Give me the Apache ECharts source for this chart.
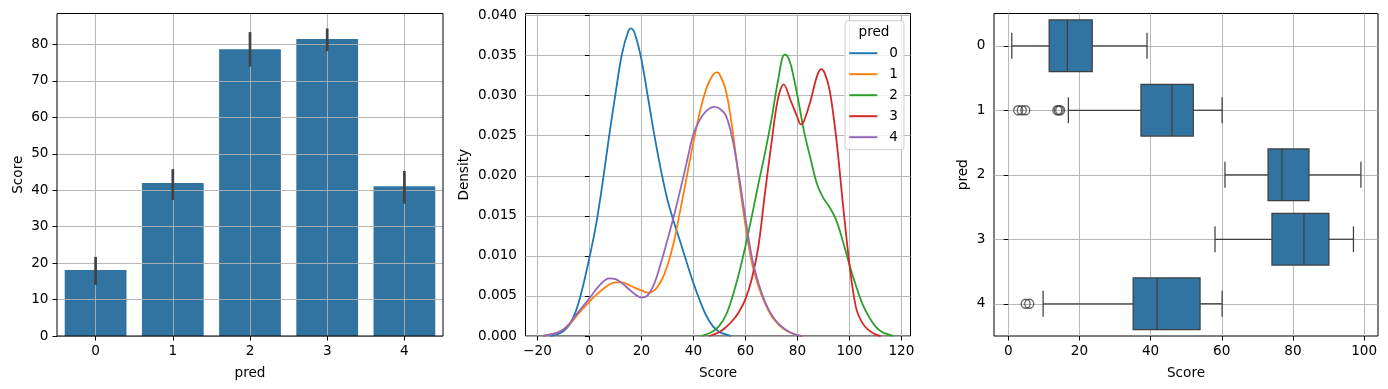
<!DOCTYPE html>
<html><head><meta charset="utf-8">
<script src="https://cdn.jsdelivr.net/npm/echarts@6/dist/echarts.min.js"></script>
<style>html,body{margin:0;padding:0;background:#fff}#c{width:1388px;height:389px}</style>
</head><body><div id="c"></div>
<script>
// ---------- data ----------
const categories = ['0', '1', '2', '3', '4'];
const barMeans  = [18.1, 42.0, 78.7, 81.5, 41.1];
const barCiLow  = [14.0, 37.3, 73.9, 78.2, 36.3];
const barCiHigh = [21.7, 45.8, 83.4, 84.4, 45.3];
const barYTicks = [0, 10, 20, 30, 40, 50, 60, 70, 80];

const kdeXTicks = [-20, 0, 20, 40, 60, 80, 100, 120];
const kdeYTicks = [0, 0.005, 0.010, 0.015, 0.020, 0.025, 0.030, 0.035, 0.040];
const kde0 = [[-15,0],[-12.5,0.0002],[-10,0.0006],[-7.5,0.0015],[-5,0.0033],[-2.5,0.0062],[0,0.0098],[2.5,0.0138],[5,0.0190],[7.5,0.0248],[10,0.0302],[12.5,0.0352],[15,0.0381],[16,0.0384],[17.5,0.0377],[20,0.0345],[22.5,0.0298],[25,0.0250],[27.5,0.0207],[30,0.0170],[32.5,0.0142],[35,0.0117],[37.5,0.0091],[40,0.0066],[42.5,0.0044],[45,0.0025],[47.5,0.0012],[50,0.0005],[52.5,0.0002],[54.5,0]];
const kde1 = [[-18,0],[-15,0.0002],[-12.5,0.0004],[-10,0.0008],[-7.5,0.0015],[-5,0.0025],[-2.5,0.0034],[0,0.0043],[2.5,0.0051],[5,0.0058],[7.5,0.0064],[10,0.0067],[12.5,0.0067],[15,0.0064],[17.5,0.0060],[20,0.0057],[22.5,0.0054],[25,0.0057],[27.5,0.0068],[30,0.0088],[32.5,0.0118],[35,0.0158],[37.5,0.0200],[40,0.0242],[42.5,0.0280],[45,0.0309],[47.5,0.0326],[49,0.0329],[50,0.0327],[52.5,0.0306],[55,0.0258],[57.5,0.0195],[60,0.0138],[62.5,0.0091],[65,0.0062],[67.5,0.0041],[70,0.0025],[72.5,0.0015],[75,0.0008],[77.5,0.0004],[80,0.0001],[82,0]];
const kde2 = [[43,0],[45,0.0002],[47.5,0.0006],[50,0.0013],[52.5,0.0026],[55,0.0049],[57.5,0.0078],[60,0.0112],[62.5,0.0150],[65,0.0190],[67.5,0.0228],[70,0.0270],[72.5,0.0318],[75,0.0351],[76,0.0350],[77.5,0.0338],[80,0.0300],[82.5,0.0256],[85,0.0222],[87.5,0.0190],[90,0.0172],[92.5,0.0160],[95,0.0144],[97.5,0.0118],[100,0.0089],[102.5,0.0063],[105,0.0040],[107.5,0.0024],[110,0.0012],[112.5,0.0005],[115,0.0002],[117,0]];
const kde3 = [[46,0],[50,0.0005],[52.5,0.0011],[55,0.0019],[57.5,0.0030],[60,0.0046],[62.5,0.0072],[65,0.0112],[67.5,0.0178],[70,0.0240],[72.5,0.0296],[74.7,0.0314],[77.5,0.0293],[80,0.0273],[81.3,0.0264],[82.5,0.0268],[85,0.0293],[87.5,0.0324],[89.1,0.0333],[90.5,0.0328],[92.5,0.0305],[95,0.0245],[97.5,0.0165],[100,0.0090],[102.5,0.0036],[105,0.0016],[107.5,0.0007],[110,0.0002],[112,0]];
const kde4 = [[-18,0],[-15,0.0002],[-12.5,0.0004],[-10,0.0008],[-7.5,0.0016],[-5,0.0027],[-2.5,0.0037],[0,0.0047],[2.5,0.0058],[5,0.0067],[7.5,0.0072],[10,0.0071],[12.5,0.0066],[15,0.0059],[17.5,0.0052],[20,0.0048],[22.5,0.0051],[25,0.0066],[27.5,0.0091],[30,0.0120],[32.5,0.0150],[35,0.0183],[37.5,0.0218],[40,0.0252],[42.5,0.0270],[45,0.0281],[48,0.0286],[50,0.0284],[52.5,0.0275],[55,0.0246],[57.5,0.0200],[60,0.0147],[62.5,0.0098],[65,0.0066],[67.5,0.0043],[70,0.0027],[72.5,0.0016],[75,0.0009],[77.5,0.0004],[80,0.0001],[82,0]];

const boxXTicks = [0, 20, 40, 60, 80, 100];
// [whiskerLow, Q1, median, Q3, whiskerHigh] per category
const boxStats = [
  [1.0, 11.5, 16.6, 23.6, 39.0],
  [16.9, 37.3, 46.0, 52.0, 60.1],
  [60.9, 73.0, 76.9, 84.5, 99.1],
  [58.1, 74.1, 83.1, 90.1, 97.0],
  [9.8, 35.1, 41.8, 53.9, 60.1]
];
const outlierValues = [2.8, 3.8, 4.8, 13.8, 14.2, 14.6, 4.9, 5.9];
const outlierCats   = [1, 1, 1, 1, 1, 1, 4, 4];

// ---------- styling helpers ----------
const FONT = 'DejaVu Sans';
const FS = 13.6;
const GRID_COLOR = '#b0b0b0';
const lineColors = ['#1f77b4', '#ff7f0e', '#2ca02c', '#d62728', '#9467bd'];
const BAR_COLOR = '#3274a1';
const EDGE = '#3f3f3f';

function tick() { return {show: true, length: 4.5, lineStyle: {color: '#000', width: 1}}; }
function label(extra) { return Object.assign({color: '#000', fontFamily: FONT, fontSize: FS, margin: 8.5}, extra || {}); }
function nameStyle() { return {color: '#000', fontFamily: FONT, fontSize: FS}; }
function split() { return {show: true, lineStyle: {color: GRID_COLOR, width: 0.9}}; }

function valueAxis(gridIndex, min, max, ticks, fmt, name, nameGap, isY, z) {
  return {
    type: 'value', gridIndex, min, max, z: z || 0,
    name, nameLocation: 'middle', nameGap, nameRotate: isY ? 90 : 0, nameTextStyle: nameStyle(),
    axisLine: {show: false},
    axisTick: Object.assign(tick(), {customValues: ticks}),
    axisLabel: label({customValues: ticks, formatter: fmt}),
    splitLine: Object.assign(split(), {customValues: ticks})
  };
}
function catAxis(gridIndex, name, nameGap, isY, inverse, z) {
  return {
    type: 'category', gridIndex, data: categories, inverse: !!inverse, z: z || 0,
    boundaryGap: true,
    name, nameLocation: 'middle', nameGap, nameRotate: isY ? 90 : 0, nameTextStyle: nameStyle(),
    axisLine: {show: false},
    axisTick: Object.assign(tick(), {alignWithLabel: true}),
    axisLabel: label(),
    splitLine: Object.assign(split(), {alignWithLabel: true})
  };
}

const gridBase = {show: true, borderColor: '#000', borderWidth: 1, backgroundColor: 'transparent', containLabel: false};

const kdeSets = [kde0, kde1, kde2, kde3, kde4];
const kdeSeries = kdeSets.map((d, i) => ({
  name: categories[i], type: 'line', xAxisIndex: 1, yAxisIndex: 1,
  data: d, smooth: 0.35, showSymbol: false, symbol: 'none',
  lineStyle: {color: lineColors[i], width: 1.8}, itemStyle: {color: lineColors[i]}, z: 2
}));

const option = {
  animation: false,
  backgroundColor: '#fff',
  textStyle: {fontFamily: FONT},
  grid: [
    Object.assign({left: 57, top: 13.5, width: 386, height: 322.5, z: 3}, gridBase),
    Object.assign({left: 525.5, top: 13.5, width: 385, height: 322.5}, gridBase),
    Object.assign({left: 994, top: 13.5, width: 384, height: 322.5}, gridBase)
  ],
  xAxis: [
    catAxis(0, 'pred', 30, false, false, 2),
    valueAxis(1, -24.6, 123.5, kdeXTicks, v => (v < 0 ? '\u2212' + Math.abs(v) : String(v)), 'Score', 30, false),
    valueAxis(2, -4, 103.9, boxXTicks, v => String(v), 'Score', 30, false)
  ],
  yAxis: [
    valueAxis(0, 0, 88.5, barYTicks, v => String(v), 'Score', 32, true, 2),
    valueAxis(1, 0, 0.04025, kdeYTicks, v => v.toFixed(3), 'Density', 54, true),
    catAxis(2, 'pred', 24, true, true)
  ],
  legend: {
    data: categories.map(c => ({name: c, icon: 'rect'})),
    orient: 'vertical', left: 845, top: 20.7,
    itemWidth: 28, itemHeight: 2, itemGap: 6,
    padding: [25, 6, 5, 4.3],
    borderColor: '#cccccc', borderWidth: 1, borderRadius: 3,
    backgroundColor: 'rgba(255,255,255,0.8)',
    textStyle: {color: '#000', fontFamily: FONT, fontSize: FS, lineHeight: 15, padding: [0, 0, 0, 7]},
    selectedMode: false, z: 10
  },
  graphic: [{
    type: 'text', left: 873.5 - 15, top: 25, z: 20,
    style: {text: 'pred', fill: '#000', font: FS + 'px "' + FONT + '"', textAlign: 'left'}
  }],
  series: [
    {
      type: 'bar', xAxisIndex: 0, yAxisIndex: 0, data: barMeans, barWidth: '80%',
      itemStyle: {color: BAR_COLOR}, z: 1
    },
    {
      type: 'custom', xAxisIndex: 0, yAxisIndex: 0, z: 5,
      data: categories.map((c, i) => [i, barCiLow[i], barCiHigh[i]]),
      encode: {x: 0, y: [1, 2]},
      renderItem: (params, api) => {
        const a = api.coord([api.value(0), api.value(1)]);
        const b = api.coord([api.value(0), api.value(2)]);
        return {type: 'line', shape: {x1: a[0], y1: a[1], x2: b[0], y2: b[1]},
                style: {stroke: '#424242', lineWidth: 2.7}};
      }
    },
    ...kdeSeries,
    {
      type: 'custom', xAxisIndex: 2, yAxisIndex: 2, z: 3,
      data: boxStats.map((s, i) => [i, s[0], s[1], s[2], s[3], s[4]]),
      encode: {y: 0, x: [1, 2, 3, 4, 5]},
      renderItem: (params, api) => {
        const idx = api.value(0);
        const p = [1, 2, 3, 4, 5].map(k => api.coord([api.value(k), idx]));
        const band = api.size([0, 1])[1];
        const hb = band * 0.4, hc = band * 0.2, y = p[0][1];
        const ls = () => ({stroke: EDGE, lineWidth: 1.25});
        return {type: 'group', children: [
          {type: 'line', shape: {x1: p[0][0], y1: y, x2: p[1][0], y2: y}, style: ls()},
          {type: 'line', shape: {x1: p[3][0], y1: y, x2: p[4][0], y2: y}, style: ls()},
          {type: 'line', shape: {x1: p[0][0], y1: y - hc, x2: p[0][0], y2: y + hc}, style: ls()},
          {type: 'line', shape: {x1: p[4][0], y1: y - hc, x2: p[4][0], y2: y + hc}, style: ls()},
          {type: 'rect', shape: {x: p[1][0], y: y - hb, width: p[3][0] - p[1][0], height: 2 * hb},
           style: {fill: BAR_COLOR, stroke: EDGE, lineWidth: 1.25}},
          {type: 'line', shape: {x1: p[2][0], y1: y - hb, x2: p[2][0], y2: y + hb}, style: ls()}
        ]};
      }
    },
    {
      type: 'scatter', xAxisIndex: 2, yAxisIndex: 2, z: 4,
      data: outlierValues.map((v, i) => [v, outlierCats[i]]),
      symbol: 'circle', symbolSize: 9,
      itemStyle: {color: 'rgba(0,0,0,0)', borderColor: EDGE, borderWidth: 1.3}
    }
  ]
};

const chart = echarts.init(document.getElementById('c'), null, {renderer: 'canvas'});
chart.setOption(option);
</script>
</body></html>
